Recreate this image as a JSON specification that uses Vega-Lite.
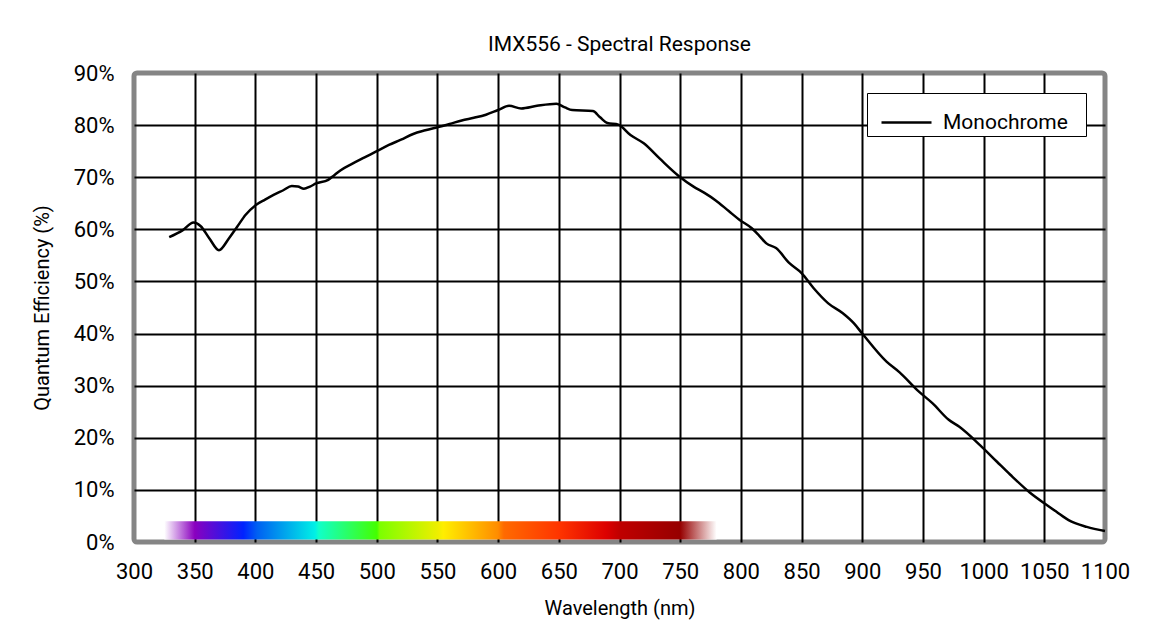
{
  "$schema": "https://vega.github.io/schema/vega-lite/v6.json",
  "autosize": {"type": "none"},
  "width": 971,
  "height": 469,
  "padding": {"left": 134, "top": 73, "right": 44, "bottom": 95},
  "background": "white",
  "title": {
    "text": "IMX556 - Spectral Response",
    "font": "Roboto",
    "fontSize": 21,
    "fontWeight": "normal",
    "color": "black",
    "anchor": "middle",
    "offset": 7
  },
  "datasets": {
    "qe": [
      {"wl": 329, "qe": 58.5, "series": "Monochrome"},
      {"wl": 340, "qe": 59.8, "series": "Monochrome"},
      {"wl": 349, "qe": 61.3, "series": "Monochrome"},
      {"wl": 355, "qe": 60.6, "series": "Monochrome"},
      {"wl": 362, "qe": 58.3, "series": "Monochrome"},
      {"wl": 370, "qe": 56.0, "series": "Monochrome"},
      {"wl": 378, "qe": 58.2, "series": "Monochrome"},
      {"wl": 385, "qe": 60.5, "series": "Monochrome"},
      {"wl": 392, "qe": 62.8, "series": "Monochrome"},
      {"wl": 400, "qe": 64.6, "series": "Monochrome"},
      {"wl": 408, "qe": 65.7, "series": "Monochrome"},
      {"wl": 415, "qe": 66.6, "series": "Monochrome"},
      {"wl": 423, "qe": 67.5, "series": "Monochrome"},
      {"wl": 430, "qe": 68.3, "series": "Monochrome"},
      {"wl": 435, "qe": 68.2, "series": "Monochrome"},
      {"wl": 440, "qe": 67.8, "series": "Monochrome"},
      {"wl": 445, "qe": 68.2, "series": "Monochrome"},
      {"wl": 450, "qe": 68.8, "series": "Monochrome"},
      {"wl": 460, "qe": 69.5, "series": "Monochrome"},
      {"wl": 465, "qe": 70.4, "series": "Monochrome"},
      {"wl": 470, "qe": 71.3, "series": "Monochrome"},
      {"wl": 480, "qe": 72.6, "series": "Monochrome"},
      {"wl": 490, "qe": 73.8, "series": "Monochrome"},
      {"wl": 500, "qe": 75.0, "series": "Monochrome"},
      {"wl": 510, "qe": 76.2, "series": "Monochrome"},
      {"wl": 520, "qe": 77.2, "series": "Monochrome"},
      {"wl": 530, "qe": 78.3, "series": "Monochrome"},
      {"wl": 540, "qe": 79.0, "series": "Monochrome"},
      {"wl": 550, "qe": 79.6, "series": "Monochrome"},
      {"wl": 560, "qe": 80.2, "series": "Monochrome"},
      {"wl": 570, "qe": 80.9, "series": "Monochrome"},
      {"wl": 580, "qe": 81.4, "series": "Monochrome"},
      {"wl": 590, "qe": 82.0, "series": "Monochrome"},
      {"wl": 600, "qe": 82.9, "series": "Monochrome"},
      {"wl": 609, "qe": 83.7, "series": "Monochrome"},
      {"wl": 619, "qe": 83.2, "series": "Monochrome"},
      {"wl": 632, "qe": 83.7, "series": "Monochrome"},
      {"wl": 648, "qe": 84.1, "series": "Monochrome"},
      {"wl": 655, "qe": 83.4, "series": "Monochrome"},
      {"wl": 661, "qe": 82.9, "series": "Monochrome"},
      {"wl": 678, "qe": 82.7, "series": "Monochrome"},
      {"wl": 684, "qe": 81.5, "series": "Monochrome"},
      {"wl": 690, "qe": 80.4, "series": "Monochrome"},
      {"wl": 699, "qe": 80.1, "series": "Monochrome"},
      {"wl": 709, "qe": 78.1, "series": "Monochrome"},
      {"wl": 720, "qe": 76.5, "series": "Monochrome"},
      {"wl": 733, "qe": 73.6, "series": "Monochrome"},
      {"wl": 749, "qe": 70.2, "series": "Monochrome"},
      {"wl": 761, "qe": 68.2, "series": "Monochrome"},
      {"wl": 770, "qe": 67.0, "series": "Monochrome"},
      {"wl": 779, "qe": 65.6, "series": "Monochrome"},
      {"wl": 790, "qe": 63.5, "series": "Monochrome"},
      {"wl": 799, "qe": 61.8, "series": "Monochrome"},
      {"wl": 809, "qe": 60.2, "series": "Monochrome"},
      {"wl": 815, "qe": 58.8, "series": "Monochrome"},
      {"wl": 821, "qe": 57.3, "series": "Monochrome"},
      {"wl": 829, "qe": 56.4, "series": "Monochrome"},
      {"wl": 840, "qe": 53.5, "series": "Monochrome"},
      {"wl": 850, "qe": 51.6, "series": "Monochrome"},
      {"wl": 860, "qe": 48.7, "series": "Monochrome"},
      {"wl": 872, "qe": 45.8, "series": "Monochrome"},
      {"wl": 884, "qe": 43.9, "series": "Monochrome"},
      {"wl": 893, "qe": 42.0, "series": "Monochrome"},
      {"wl": 900, "qe": 40.0, "series": "Monochrome"},
      {"wl": 920, "qe": 34.6, "series": "Monochrome"},
      {"wl": 931, "qe": 32.5, "series": "Monochrome"},
      {"wl": 946, "qe": 29.0, "series": "Monochrome"},
      {"wl": 958, "qe": 26.6, "series": "Monochrome"},
      {"wl": 971, "qe": 23.5, "series": "Monochrome"},
      {"wl": 980, "qe": 22.1, "series": "Monochrome"},
      {"wl": 997, "qe": 18.6, "series": "Monochrome"},
      {"wl": 1011, "qe": 15.4, "series": "Monochrome"},
      {"wl": 1022, "qe": 12.9, "series": "Monochrome"},
      {"wl": 1038, "qe": 9.5, "series": "Monochrome"},
      {"wl": 1052, "qe": 7.1, "series": "Monochrome"},
      {"wl": 1060, "qe": 5.8, "series": "Monochrome"},
      {"wl": 1070, "qe": 4.2, "series": "Monochrome"},
      {"wl": 1085, "qe": 2.9, "series": "Monochrome"},
      {"wl": 1100, "qe": 2.1, "series": "Monochrome"}
    ],
    "spectrum": [
      {"start": 325, "end": 780, "low": 0.5, "high": 4.0}
    ]
  },
  "layer": [
    {
      "data": {"name": "spectrum"},
      "mark": {
        "type": "rect",
        "fill": {
          "gradient": "linear",
          "stops": [
            {"offset": 0.0, "color": "#ffffff"},
            {"offset": 0.055, "color": "#8a00bf"},
            {"offset": 0.143, "color": "#0022ff"},
            {"offset": 0.168, "color": "#0060f2"},
            {"offset": 0.273, "color": "#00f0e6"},
            {"offset": 0.28, "color": "#10ffc8"},
            {"offset": 0.385, "color": "#44ff00"},
            {"offset": 0.39, "color": "#7cff00"},
            {"offset": 0.495, "color": "#eeee00"},
            {"offset": 0.505, "color": "#ffee00"},
            {"offset": 0.604, "color": "#ff8c00"},
            {"offset": 0.615, "color": "#ff6a00"},
            {"offset": 0.714, "color": "#ff3500"},
            {"offset": 0.8, "color": "#dd0000"},
            {"offset": 0.824, "color": "#c00000"},
            {"offset": 0.934, "color": "#960000"},
            {"offset": 1.0, "color": "#ffffff"}
          ]
        }
      },
      "encoding": {
        "x": {"field": "start", "type": "quantitative"},
        "x2": {"field": "end"},
        "y": {"field": "low", "type": "quantitative"},
        "y2": {"field": "high"}
      }
    },
    {
      "data": {"name": "qe"},
      "mark": {"type": "line", "strokeWidth": 2.5, "interpolate": "monotone"},
      "encoding": {
        "x": {
          "field": "wl",
          "type": "quantitative",
          "scale": {"domain": [300, 1100], "nice": false, "zero": false},
          "axis": {
            "values": [300, 350, 400, 450, 500, 550, 600, 650, 700, 750, 800, 850, 900, 950, 1000, 1050, 1100],
            "format": "d",
            "labelFlush": false,
            "labelOverlap": false,
            "gridOpacity": {"condition": {"test": "datum.value == 300 || datum.value == 1100", "value": 0}, "value": 1},
            "title": "Wavelength (nm)",
            "titlePadding": 16
          }
        },
        "y": {
          "field": "qe",
          "type": "quantitative",
          "scale": {"domain": [0, 90], "nice": false},
          "axis": {
            "values": [0, 10, 20, 30, 40, 50, 60, 70, 80, 90],
            "labelExpr": "datum.value + '%'",
            "labelFlush": false,
            "labelOverlap": false,
            "gridOpacity": {"condition": {"test": "datum.value == 0 || datum.value == 90", "value": 0}, "value": 1},
            "title": "Quantum Efficiency (%)",
            "titlePadding": 21
          }
        },
        "color": {
          "field": "series",
          "type": "nominal",
          "scale": {"domain": ["Monochrome"], "range": ["black"]},
          "legend": {
            "title": null,
            "orient": "none",
            "legendX": 733,
            "legendY": 20,
            "symbolType": "stroke",
            "symbolSize": 2500,
            "symbolStrokeWidth": 2.5,
            "symbolOffset": 10,
            "labelFont": "Roboto",
            "labelFontSize": 21,
            "labelColor": "black",
            "labelOffset": 10,
            "labelExpr": "datum.label + '\u2800'",
            "padding": 3,
            "strokeColor": "black",
            "fillColor": "white"
          }
        }
      }
    }
  ],
  "config": {
    "view": {"stroke": "#858585", "strokeWidth": 5, "cornerRadius": 3},
    "axis": {
      "grid": true,
      "gridColor": "black",
      "gridWidth": 2,
      "ticks": false,
      "domain": false,
      "labelFont": "Roboto",
      "labelFontSize": 22,
      "labelColor": "black",
      "titleFont": "Roboto",
      "titleFontSize": 20,
      "titleFontWeight": "normal",
      "titleColor": "black"
    },
    "axisX": {"labelPadding": 19},
    "axisY": {"labelPadding": 20}
  }
}
